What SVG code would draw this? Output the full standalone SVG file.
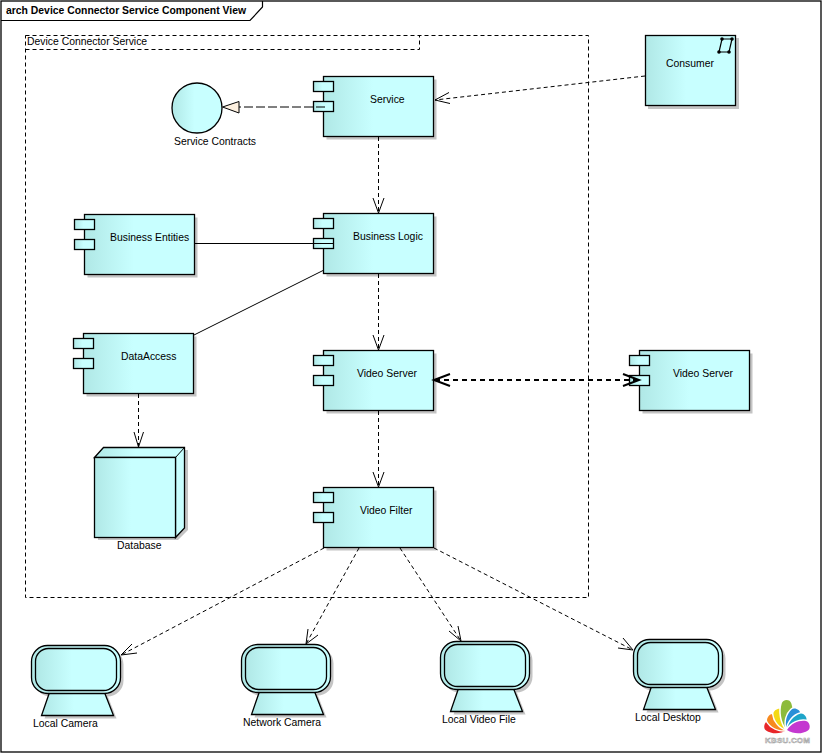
<svg xmlns="http://www.w3.org/2000/svg" width="822" height="753" viewBox="0 0 822 753">
<style>
text{font-family:"Liberation Sans",Arial,sans-serif;font-size:10.400px;fill:#000}
.b{fill:url(#g);stroke:#000;stroke-width:1.300}
.s{fill:#c4c4c4}
.c{fill:none;stroke:#000;stroke-width:1}
.d{stroke-dasharray:4 3}
.h{fill:none;stroke:#000;stroke-width:1}
</style>
<defs>
<linearGradient id="g" x1="0" y1="0" x2="1" y2="0"><stop offset="0" stop-color="#b0e8e6"/><stop offset=".45" stop-color="#c8ffff"/><stop offset="1" stop-color="#c8ffff"/></linearGradient>
<g id="comp">
<rect class="s" x="3" y="3" width="110" height="60"/>
<rect class="b" width="110" height="60"/>
<rect class="b" x="-10" y="5" width="20" height="10"/>
<rect class="b" x="-10" y="25" width="20" height="10"/>
</g>
<g id="mon">
<rect class="s" x="3" y="3" width="89" height="48" rx="16"/>
<path class="s" d="M21 50H76L85 73H13Z"/>
<path class="b" d="M18 47H73L82 70H10Z"/>
<rect class="b" x="0" y="0" width="89" height="48" rx="16"/>
<rect class="b" x="4" y="3" width="81" height="42" rx="13"/>
</g>
<path id="petal" d="M0 0C-5 -5 -6 -12 -4 -17C-3 -20 3 -20 4 -17C6 -12 5 -5 0 0Z"/>
</defs>
<rect width="822" height="753" fill="#fff"/>
<g id="frame">
<rect x="1" y="1" width="820" height="751" fill="none" stroke="#000" stroke-width="1.300"/>
<path d="M1 20.500H250L262.500 7V1" fill="none" stroke="#000" stroke-width="1.200"/>
<text x="6" y="14" style="font-weight:700">arch Device Connector Service Component View</text>
</g>
<g id="boundary">
<rect class="c d" x="25.500" y="35.500" width="563" height="562"/>
<path class="c d" d="M25.500 49.500H419.500V35.500"/>
<text x="27" y="45">Device Connector Service</text>
</g>
<g id="service-contracts">
<circle cx="197" cy="108" r="25" class="b"/>
<text x="174" y="145">Service Contracts</text>
</g>
<g id="service"><use href="#comp" x="323.500" y="76.500"/><text x="370" y="103">Service</text></g>
<g id="consumer">
<rect class="s" x="648" y="38" width="91" height="71"/>
<rect class="b" x="645.500" y="35.500" width="90" height="70"/>
<path d="M722 39H732L729 52H719Z" fill="none" stroke="#000" stroke-width="1.200"/>
<g fill="#000"><circle cx="722" cy="39" r="1.800"/><circle cx="732" cy="39" r="1.800"/><circle cx="729" cy="52" r="1.800"/><circle cx="719" cy="52" r="1.800"/></g>
<text x="666" y="67">Consumer</text>
</g>
<g id="business-logic"><use href="#comp" x="323.500" y="213.500"/><text x="353" y="240">Business Logic</text></g>
<g id="business-entities"><use href="#comp" x="84.500" y="214.500"/><text x="110" y="241">Business Entities</text></g>
<g id="data-access"><use href="#comp" x="83.500" y="333.500"/><text x="121" y="360">DataAccess</text></g>
<g id="video-server-1"><use href="#comp" x="323.500" y="350.500"/><text x="357" y="377">Video Server</text></g>
<g id="video-server-2"><use href="#comp" x="639.500" y="350.500"/><text x="673" y="377">Video Server</text></g>
<g id="video-filter"><use href="#comp" x="323.500" y="487.500"/><text x="360" y="514">Video Filter</text></g>
<g id="database">
<path class="s" d="M98 460H178V540H98Z"/>
<path class="s" d="M178 450H188V530L178 540Z"/>
<path class="b" d="M94.500 457.500L103.500 447.500H184.500V528L175.500 537.500V457.500Z"/>
<rect class="b" x="94.500" y="457.500" width="81" height="80"/>
<path class="c" d="M175.500 457.500L184.500 447.500"/>
<text x="117" y="549">Database</text>
</g>
<g id="local-camera"><use href="#mon" x="31.500" y="645.500"/><text x="33" y="727">Local Camera</text></g>
<g id="network-camera"><use href="#mon" x="241.500" y="644.500"/><text x="243" y="726">Network Camera</text></g>
<g id="local-video-file"><use href="#mon" x="440.500" y="641.500"/><text x="442" y="723">Local Video File</text></g>
<g id="local-desktop"><use href="#mon" x="633.500" y="639.500"/><text x="635" y="721">Local Desktop</text></g>
<g id="connectors">
<path class="c" d="M325 107H239" stroke-dasharray="9 3"/>
<path d="M239 101.500L222.500 107L239 113Z" fill="#fdf0e0" stroke="#000"/>
<path class="c d" d="M645 76L435 100"/><path class="h" d="M449 92.500L435 100L450 103.500"/>
<path class="c d" d="M378.500 137V213"/><path class="h" d="M373 198L378.500 213L384 198"/>
<path class="c d" d="M378.500 274V350"/><path class="h" d="M373 335L378.500 350L384 335"/>
<path class="c d" d="M378.500 411V487"/><path class="h" d="M373 472L378.500 487L384 472"/>
<path class="c" d="M195 243.500H333"/>
<path class="c" d="M194 335L324 270"/>
<path class="c d" d="M138.500 394V447"/><path class="h" d="M134 432L138.500 447L143.500 432"/>
<path d="M435 380H638" fill="none" stroke="#000" stroke-width="2" stroke-dasharray="5 4"/>
<path d="M450 374L434 380L450 386M623 374L639 380L623 386" fill="none" stroke="#000" stroke-width="2"/>
<path class="c d" d="M324 548L121 655"/><path class="h" d="M132 644L121 655L137 653"/>
<path class="c d" d="M359 548L306 644"/><path class="h" d="M308 629L306 644L318 635"/>
<path class="c d" d="M400 548L461 641"/><path class="h" d="M449 631L461 641L458 626"/>
<path class="c d" d="M434 548L633 650"/><path class="h" d="M618 648L633 650L623 638"/>
</g>
<g id="logo">
<g transform="translate(787 730) scale(1.200)" stroke="#fff" stroke-width="2.500" paint-order="stroke">
<use href="#petal" fill="#e8262a" transform="rotate(-78)"/>
<use href="#petal" fill="#f78a1f" transform="rotate(-54)"/>
<use href="#petal" fill="#f4d914" transform="rotate(-27)"/>
<use href="#petal" fill="#8dbb3c" transform="rotate(-1) scale(1 1.300)"/>
<use href="#petal" fill="#2a8fd8" transform="rotate(26)"/>
<use href="#petal" fill="#1ea5c9" transform="rotate(52)"/>
<use href="#petal" fill="#c438d0" transform="rotate(78)"/>
</g>
<text x="765" y="743" style="font-size:8px;font-weight:700;fill:#eee;stroke:#999;stroke-width:.5;letter-spacing:.2px">KBSU.COM</text>
</g>
</svg>
